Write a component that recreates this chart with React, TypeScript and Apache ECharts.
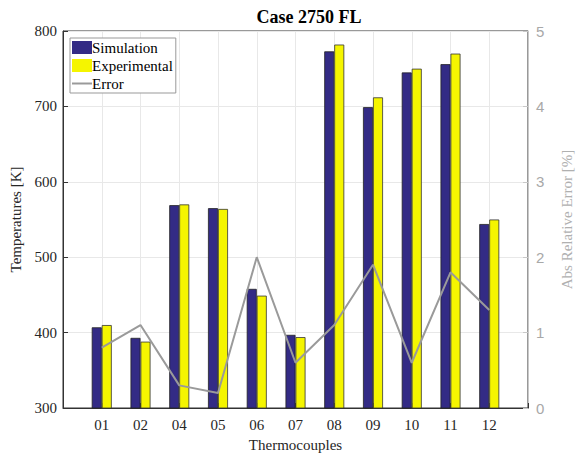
import React, { useEffect, useRef } from "react";
import * as echarts from "echarts";

const categories = ["", "01", "02", "04", "05", "06", "07", "08", "09", "10", "11", "12", ""];
const simulation = [null, 407, 393, 569, 565, 458, 397, 773, 699, 745, 756, 544, null];
const experimental = [null, 410, 388, 570, 564, 449, 394, 782, 712, 750, 770, 550, null];
const errorPct = [null, 0.8, 1.1, 0.3, 0.2, 2.0, 0.6, 1.1, 1.9, 0.6, 1.8, 1.3, null];

const serif = "Liberation Serif";

export default function App() {
  const ref = useRef<HTMLDivElement>(null);
  useEffect(() => {
    if (!ref.current) return;
    const chart = echarts.init(ref.current, undefined, { renderer: "svg" });
    chart.setOption({
      animation: false,
      backgroundColor: "#ffffff",
      title: {
        text: "Case 2750 FL",
        left: 304,
        textAlign: "center",
        top: 3,
        textStyle: { fontFamily: serif, fontSize: 18, fontWeight: "bold", color: "#000" },
      },
      grid: {
        left: 63,
        right: 37,
        top: 31,
        bottom: 47,
        show: true,
        borderColor: "#333",
        borderWidth: 1,
        backgroundColor: "transparent",
      },
      legend: {
        orient: "vertical",
        left: 70,
        top: 38,
        itemWidth: 20,
        itemHeight: 13,
        itemGap: 3,
        padding: [2, 3, 2, 2],
        backgroundColor: "#fff",
        borderColor: "#999",
        borderWidth: 1,
        borderRadius: 0,
        textStyle: { fontFamily: serif, fontSize: 15, color: "#000", padding: [0, 0, 0, -5] },
        data: [
          { name: "Simulation", icon: "rect", itemStyle: { borderWidth: 0 } },
          { name: "Experimental", icon: "rect", itemStyle: { borderWidth: 0 } },
          { name: "Error", icon: "path://M0,0 L20,0 L20,2 L0,2 Z", itemStyle: { color: "#9a9a9a", borderWidth: 0 } },
        ],
      },
      xAxis: {
        type: "category",
        data: categories,
        boundaryGap: false,
        name: "Thermocouples",
        nameLocation: "middle",
        nameGap: 29,
        nameTextStyle: { fontFamily: serif, fontSize: 15, color: "#262626" },
        axisLine: { lineStyle: { color: "#333" } },
        axisTick: { inside: true, length: 5, lineStyle: { color: "#333" } },
        axisLabel: { fontFamily: serif, fontSize: 15, color: "#262626", margin: 9 },
        splitLine: { show: true, lineStyle: { color: "#e8e8e8" } },
      },
      yAxis: [
        {
          type: "value",
          min: 300,
          max: 800,
          interval: 100,
          name: "Temperatures [K]",
          nameLocation: "middle",
          nameGap: 33,
          nameTextStyle: { fontFamily: serif, fontSize: 15, color: "#262626" },
          axisLine: { show: true, lineStyle: { color: "#333" } },
          axisTick: { show: true, inside: true, length: 5, lineStyle: { color: "#333" } },
          axisLabel: { fontFamily: serif, fontSize: 15, color: "#262626", margin: 6 },
          splitLine: { show: true, lineStyle: { color: "#e8e8e8" } },
        },
        {
          type: "value",
          min: 0,
          max: 5,
          interval: 1,
          position: "right",
          name: "Abs Relative Error [%]",
          nameLocation: "middle",
          nameGap: 31,
          nameTextStyle: { fontFamily: serif, fontSize: 15, color: "#b0b0b0" },
          axisLine: { show: true, lineStyle: { color: "#c8c8c8" } },
          axisTick: { show: true, inside: true, length: 5, lineStyle: { color: "#c8c8c8" } },
          axisLabel: { fontFamily: "Liberation Sans", fontSize: 15, color: "#a8a8a8", margin: 8 },
          splitLine: { show: false },
        },
      ],
      series: [
        {
          name: "Simulation",
          type: "bar",
          data: simulation,
          barWidth: 10,
          barGap: "0%",
          itemStyle: { color: "#332b85", borderColor: "#222", borderWidth: 0.8 },
        },
        {
          name: "Experimental",
          type: "bar",
          data: experimental,
          barWidth: 10,
          barGap: "0%",
          itemStyle: { color: "#f5f500", borderColor: "#333", borderWidth: 0.8 },
        },
        {
          name: "Error",
          type: "line",
          yAxisIndex: 1,
          data: errorPct,
          symbol: "none",
          connectNulls: false,
          lineStyle: { color: "#9a9a9a", width: 2 },
          itemStyle: { color: "#9a9a9a" },
        },
      ],
    });
    return () => chart.dispose();
  }, []);
  return (
    <div
      ref={ref}
      style={{ position: "fixed", left: 0, top: 0, width: 582, height: 457 }}
    />
  );
}
